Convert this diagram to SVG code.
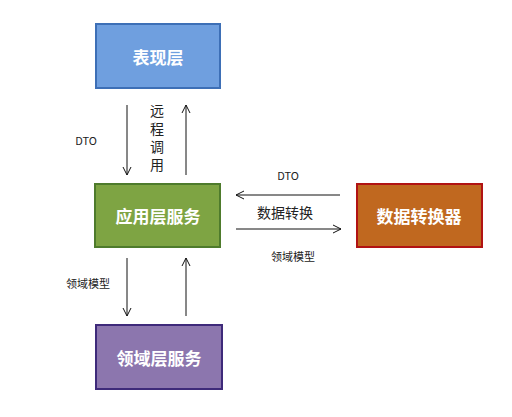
<svg xmlns="http://www.w3.org/2000/svg" width="512" height="417" viewBox="0 0 512 417">
<style>
.box{stroke-width:2}
.bl{font-family:"Noto Sans CJK SC","Noto Sans",sans-serif;font-weight:bold;font-size:17px;fill:#fff;text-anchor:middle;dominant-baseline:central}
.lb{font-family:"Noto Sans CJK SC","Liberation Sans",sans-serif;fill:#222;text-anchor:middle;dominant-baseline:central}
.ar{stroke:#111;stroke-width:1;fill:none}
</style>
<defs>
<marker id="h" viewBox="0 0 10 10" refX="9" refY="5" markerWidth="10" markerHeight="10" markerUnits="userSpaceOnUse" orient="auto">
<path d="M1,1 L9,5 L1,9" fill="none" stroke="#111" stroke-width="1"/>
</marker>
</defs>
<rect width="512" height="417" fill="#fff"/>
<g id="presentation">
<rect class="box" x="96" y="24" width="124" height="64" fill="#6f9fdf" stroke="#3d6fb6"/>
<text class="bl" x="158" y="56">表现层</text>
</g>
<g id="application">
<rect class="box" x="95" y="184" width="125" height="63" fill="#7ea443" stroke="#4e7b2c"/>
<text class="bl" x="158" y="215">应用层服务</text>
</g>
<g id="converter">
<rect class="box" x="357" y="184" width="125" height="63" fill="#c0681f" stroke="#b11313"/>
<text class="bl" x="419" y="215">数据转换器</text>
</g>
<g id="domain">
<rect class="box" x="96" y="325" width="126" height="64" fill="#8c76ae" stroke="#3e2a7a"/>
<text class="bl" x="159" y="357">领域层服务</text>
</g>
<g id="connectors">
<line class="ar" x1="127" y1="105" x2="127" y2="175" marker-end="url(#h)"/>
<line class="ar" x1="186" y1="175" x2="186" y2="105" marker-end="url(#h)"/>
<line class="ar" x1="340" y1="195" x2="236" y2="195" marker-end="url(#h)"/>
<line class="ar" x1="236" y1="229" x2="341" y2="229" marker-end="url(#h)"/>
<line class="ar" x1="127" y1="258" x2="127" y2="316" marker-end="url(#h)"/>
<line class="ar" x1="186" y1="316" x2="186" y2="258" marker-end="url(#h)"/>
<text class="lb" x="86" y="140" font-size="11">DTO</text>
<text x="157" y="104" font-size="14" fill="#222" font-family="'Noto Sans CJK SC',sans-serif" style="writing-mode:vertical-rl;letter-spacing:4px">远程调用</text>
<text class="lb" x="288" y="175" font-size="11">DTO</text>
<text class="lb" x="285" y="212" font-size="14">数据转换</text>
<text class="lb" x="293" y="256" font-size="11">领域模型</text>
<text class="lb" x="88" y="283" font-size="11">领域模型</text>
</g>
</svg>
